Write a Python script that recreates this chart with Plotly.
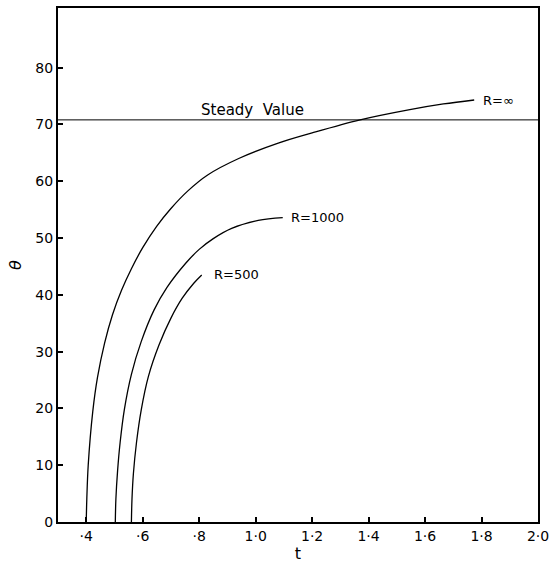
import plotly.graph_objects as go

# Data
t_inf = [0.400, 0.402, 0.407, 0.423, 0.440, 0.465, 0.493, 0.525, 0.560, 0.600, 0.650, 0.700, 0.760, 0.830, 0.940, 1.080, 1.200, 1.370, 1.546, 1.665, 1.774]
th_inf = [0, 4, 10, 19.4, 25.5, 31.5, 36.5, 40.8, 44.6, 48.3, 52.1, 55.2, 58.3, 61.1, 64.0, 66.7, 68.5, 70.8, 72.6, 73.6, 74.3]

t_1000 = [0.503, 0.505, 0.511, 0.520, 0.535, 0.560, 0.595, 0.640, 0.686, 0.753, 0.800, 0.850, 0.915, 1.009, 1.096]
th_1000 = [0, 4, 9, 14, 19.8, 26, 31.8, 37.3, 41.3, 45.6, 48.0, 49.9, 51.7, 53.1, 53.6]

t_500 = [0.560, 0.562, 0.567, 0.578, 0.595, 0.620, 0.658, 0.700, 0.740, 0.780, 0.809]
th_500 = [0, 4, 8.5, 14, 19.8, 25.6, 31.2, 35.9, 39.4, 42.0, 43.5]

steady_value = 70.8

x_tickvals = [0.4, 0.6, 0.8, 1.0, 1.2, 1.4, 1.6, 1.8, 2.0]
x_ticktext = ["·4", "·6", "·8", "1·0", "1·2", "1·4", "1·6", "1·8", "2·0"]
y_tickvals = [0, 10, 20, 30, 40, 50, 60, 70, 80]

labels = ["R=∞", "R=1000", "R=500"]
label_pos = [(1.798, 74.3), (1.118, 53.6), (0.844, 43.6)]

FONT = "DejaVu Sans"

fig = go.Figure()
for t, th in [(t_inf, th_inf), (t_1000, th_1000), (t_500, th_500)]:
    fig.add_trace(go.Scatter(x=t, y=th, mode="lines",
                             line=dict(color="black", width=1.3, shape="spline", smoothing=1.0),
                             showlegend=False, hoverinfo="skip"))

fig.add_trace(go.Scatter(x=[0.3, 2.0], y=[steady_value, steady_value], mode="lines",
                         line=dict(color="black", width=1), showlegend=False, hoverinfo="skip"))

for lab, (lx, ly) in zip(labels, label_pos):
    fig.add_annotation(x=lx, y=ly, text=lab, showarrow=False, xanchor="left", yanchor="middle",
                       font=dict(family=FONT, size=13, color="black"))

fig.add_annotation(x=0.798, y=steady_value, text="Steady  Value", showarrow=False,
                   xanchor="left", yanchor="bottom", yshift=-1,
                   font=dict(family=FONT, size=15, color="black"))

fig.update_xaxes(range=[0.3, 2.0], tickvals=x_tickvals, ticktext=x_ticktext,
                 ticks="inside", ticklen=5, tickwidth=1.5, tickcolor="black",
                 showline=True, linecolor="black", linewidth=2, mirror=True,
                 showgrid=False, zeroline=False,
                 tickfont=dict(family=FONT, size=14, color="black"),
                 title=dict(text="t", font=dict(family=FONT, size=16, color="black"), standoff=2))
fig.update_yaxes(range=[0, 90.5], tickvals=y_tickvals,
                 ticks="inside", ticklen=5, tickwidth=1.5, tickcolor="black",
                 showline=True, linecolor="black", linewidth=2, mirror=True,
                 showgrid=False, zeroline=False,
                 tickfont=dict(family=FONT, size=14, color="black"),
                 title=dict(text="<i>θ</i>", font=dict(family=FONT, size=16, color="black"), standoff=10))

fig.update_layout(width=555, height=563, margin=dict(l=58, r=12, t=6, b=39),
                  plot_bgcolor="white", paper_bgcolor="white")

fig.write_html("out.html")
